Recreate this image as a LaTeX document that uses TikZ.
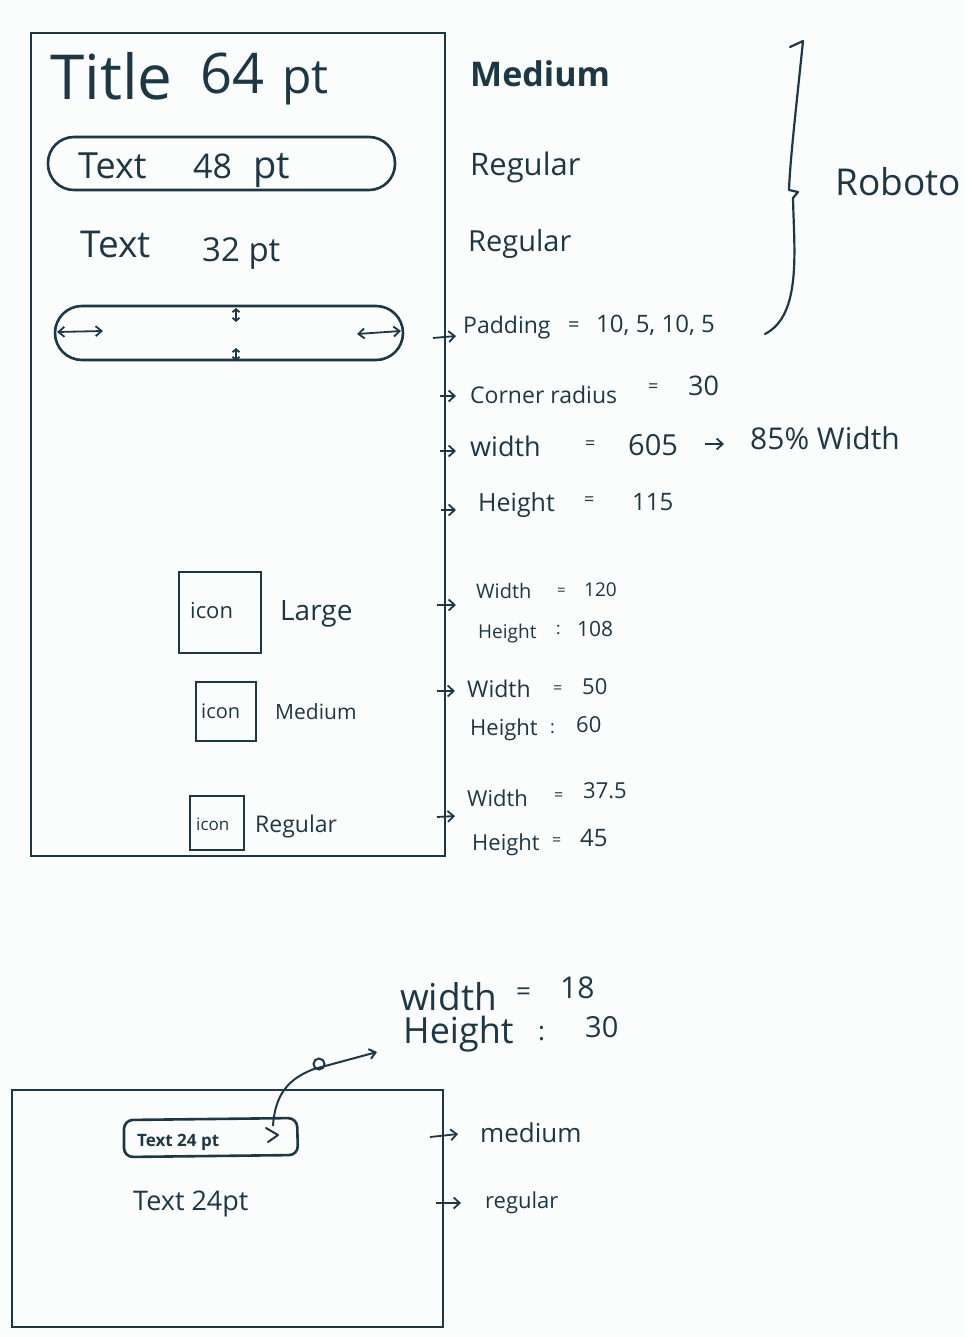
\documentclass[tikz,border=0pt]{standalone}
\usepackage{fontspec}
\setmainfont{Open Sans}
\usetikzlibrary{arrows.meta}
\definecolor{ink}{HTML}{1D3844}
\definecolor{paper}{HTML}{FBFCFC}
\tikzset{
  lbl/.style={anchor=base west, inner sep=0pt, text=ink},
  fs/.style={font=\fontsize{#1}{#1}\selectfont},
  fsb/.style={font=\fontsize{#1}{#1}\selectfont\bfseries},
  thinframe/.style={draw=ink, line width=1.2pt},
  thickline/.style={draw=ink, line width=2.6pt},
  pointer/.style={draw=ink, line width=1.8pt, -{Straight Barb[length=6pt,width=11pt]}},
  twoway/.style={draw=ink, line width=1.8pt, {Straight Barb[length=6pt,width=10pt]}-{Straight Barb[length=6pt,width=10pt]}},
  tinyway/.style={draw=ink, line width=1.8pt, {Straight Barb[length=3pt,width=7pt]}-{Straight Barb[length=3pt,width=7pt]}},
}
\begin{document}
\begin{tikzpicture}[x=1pt,y=-1pt]
\useasboundingbox (0,0) rectangle (966,1337);
\fill[paper] (0,0) rectangle (966,1337);

% ---------- first screen ----------
\draw[thinframe] (31,33) rectangle (445,856);

\node[lbl,fs=62] (title) at (50,100) {Title};
\node[lbl,fs=56] (title64) at (200,94) {64};
\node[lbl,fs=48] (titlept) at (282,94) {pt};

\draw[thickline, rounded corners=26pt] (48,137) rectangle (395,190);
\node[lbl,fs=36] (t48a) at (78,179) {Text};
\node[lbl,fs=34] (t48b) at (193,179) {48};
\node[lbl,fs=38] (t48c) at (253,179) {pt};

\node[lbl,fs=37] (t32a) at (80,258) {Text};
\node[lbl,fs=33] (t32b) at (202,262) {32 pt};

% padding pill
\draw[thickline, rounded corners=27pt] (55,306) rectangle (403,360);
\coordinate (pl1) at (57,332);  \coordinate (pl2) at (103,331);
\coordinate (pr1) at (357,334); \coordinate (pr2) at (401,331);
\coordinate (pt1) at (236,308); \coordinate (pt2) at (236,322);
\coordinate (pb1) at (236,348); \coordinate (pb2) at (236,361);
\draw[twoway] (pl1) -- (pl2);
\draw[twoway] (pr1) -- (pr2);
\draw[tinyway] (pt1) -- (pt2);
\draw[tinyway] (pb1) -- (pb2);

% icon sizes
\draw[thickline] (179,572) rectangle (261,653);
\node[lbl,fs=22] (iconL) at (190,618) {icon};
\node[lbl,fs=28] (large) at (280,620) {Large};
\draw[thickline] (196,682) rectangle (256,741);
\node[lbl,fs=20] (iconM) at (201,718) {icon};
\node[lbl,fs=21] (medL) at (275,719) {Medium};
\draw[thickline] (190,796) rectangle (244,850);
\node[lbl,fs=17] (iconR) at (196,830) {icon};
\node[lbl,fs=23] (regL) at (255,832) {Regular};

% ---------- font weights ----------
\node[lbl,fsb=34] (wMed) at (470,87) {Medium};
\node[lbl,fs=31] (wReg1) at (470,176) {Regular};
\node[lbl,fs=29] (wReg2) at (468,252) {Regular};

% brace to the family name
\coordinate (br1) at (790,47);  \coordinate (br2) at (803,41);
\coordinate (br3) at (789,190); \coordinate (br4) at (798,192);
\coordinate (br5) at (793,198); \coordinate (br6) at (765,334);
\draw[ink, line width=2.2pt, line cap=round, line join=round]
  (br1) -- (br2) .. controls (797,100) and (790,160) .. (br3) -- (br4) -- (br5)
  .. controls (794,250) and (802,315) .. (br6);
\node[lbl,fs=37] (roboto) at (835,196) {Roboto};

% ---------- pill specification ----------
\coordinate (a1s) at (433,338); \coordinate (a1e) at (456,336);
\draw[pointer] (a1s) -- (a1e);
\node[lbl,fs=23] (pad) at (463,333) {Padding};
\node[lbl,fs=20] (padeq) at (568,331) {=};
\node[lbl,fs=24] (padv) at (596,332) {10, 5, 10, 5};

\coordinate (a2s) at (440,396); \coordinate (a2e) at (456,396);
\draw[pointer] (a2s) -- (a2e);
\node[lbl,fs=23] (rad) at (470,403) {Corner radius};
\node[lbl,fs=18] (radeq) at (648,392) {=};
\node[lbl,fs=27] (radv) at (688,395) {30};

\coordinate (a3s) at (440,451); \coordinate (a3e) at (456,451);
\draw[pointer] (a3s) -- (a3e);
\node[lbl,fs=27] (wid) at (470,456) {width};
\node[lbl,fs=18] (wideq) at (585,449) {=};
\node[lbl,fs=29] (widv) at (628,455) {605};
\coordinate (a4s) at (705,444); \coordinate (a4e) at (724,444);
\draw[pointer] (a4s) -- (a4e);
\node[lbl,fs=30] (widp) at (750,449) {85\% Width};

\coordinate (a5s) at (441,510); \coordinate (a5e) at (456,510);
\draw[pointer] (a5s) -- (a5e);
\node[lbl,fs=25] (hei) at (478,511) {Height};
\node[lbl,fs=18] (heieq) at (584,505) {=};
\node[lbl,fs=24] (heiv) at (632,510) {115};

% ---------- icon specification ----------
\coordinate (b1s) at (437,605); \coordinate (b1e) at (456,605);
\draw[pointer] (b1s) -- (b1e);
\node[lbl,fs=20] (iw1) at (476,598) {Width};
\node[lbl,fs=15] (iw1eq) at (557,595) {=};
\node[lbl,fs=19] (iw1v) at (584,596) {120};
\node[lbl,fs=19] (ih1) at (478,638) {Height};
\node[lbl,fs=17] (ih1eq) at (556,634) {:};
\node[lbl,fs=21] (ih1v) at (577,636) {108};

\coordinate (b2s) at (437,691); \coordinate (b2e) at (455,691);
\draw[pointer] (b2s) -- (b2e);
\node[lbl,fs=23] (iw2) at (467,697) {Width};
\node[lbl,fs=16] (iw2eq) at (553,693) {=};
\node[lbl,fs=22] (iw2v) at (582,694) {50};
\node[lbl,fs=22] (ih2) at (470,735) {Height};
\node[lbl,fs=18] (ih2eq) at (550,733) {:};
\node[lbl,fs=22] (ih2v) at (576,732) {60};

\coordinate (b3s) at (437,817); \coordinate (b3e) at (455,816);
\draw[pointer] (b3s) -- (b3e);
\node[lbl,fs=22] (iw3) at (467,806) {Width};
\node[lbl,fs=16] (iw3eq) at (554,800) {=};
\node[lbl,fs=22] (iw3v) at (583,798) {37.5};
\node[lbl,fs=22] (ih3) at (472,850) {Height};
\node[lbl,fs=16] (ih3eq) at (552,845) {=};
\node[lbl,fs=24] (ih3v) at (580,846) {45};

% ---------- second screen ----------
\draw[thickline] (12,1090) rectangle (443,1327);
\draw[thickline, rounded corners=9pt] (124,1120) -- (297,1118) -- (298,1155) -- (124,1157) -- cycle;
\node[lbl,fsb=17] (t24in) at (137,1146) {Text 24 pt};
% chevron inside the small pill
\coordinate (ch1) at (266,1128); \coordinate (ch2) at (278,1135); \coordinate (ch3) at (268,1142);
\draw[ink, line width=2pt, line cap=round, line join=round] (ch1) -- (ch2) -- (ch3);
\node[lbl,fs=27] (t24) at (133,1210) {Text 24pt};

\coordinate (c1) at (273,1126);
\coordinate (c2) at (314,1069);
\coordinate (c3) at (377,1052);
\draw[ink, line width=2pt, -{Straight Barb[length=6pt,width=10pt]}]
  (c1) .. controls (275,1093) and (290,1078) .. (c2) -- (c3);
\draw[ink, line width=2pt] (319,1064) circle (5.5pt);

\node[lbl,fs=37] (sw) at (400,1010) {width};
\node[lbl,fs=26] (sweq) at (516,1000) {=};
\node[lbl,fs=30] (swv) at (560,998) {18};
\node[lbl,fs=36] (sh) at (403,1043) {Height};
\node[lbl,fs=26] (sheq) at (538,1040) {:};
\node[lbl,fs=29] (shv) at (585,1037) {30};

\coordinate (d1s) at (430,1137); \coordinate (d1e) at (458,1134);
\draw[pointer] (d1s) -- (d1e);
\node[lbl,fs=26] (smed) at (480,1142) {medium};
\coordinate (d2s) at (436,1203); \coordinate (d2e) at (461,1203);
\draw[pointer] (d2s) -- (d2e);
\node[lbl,fs=22] (sreg) at (485,1208) {regular};
\end{tikzpicture}
\end{document}
